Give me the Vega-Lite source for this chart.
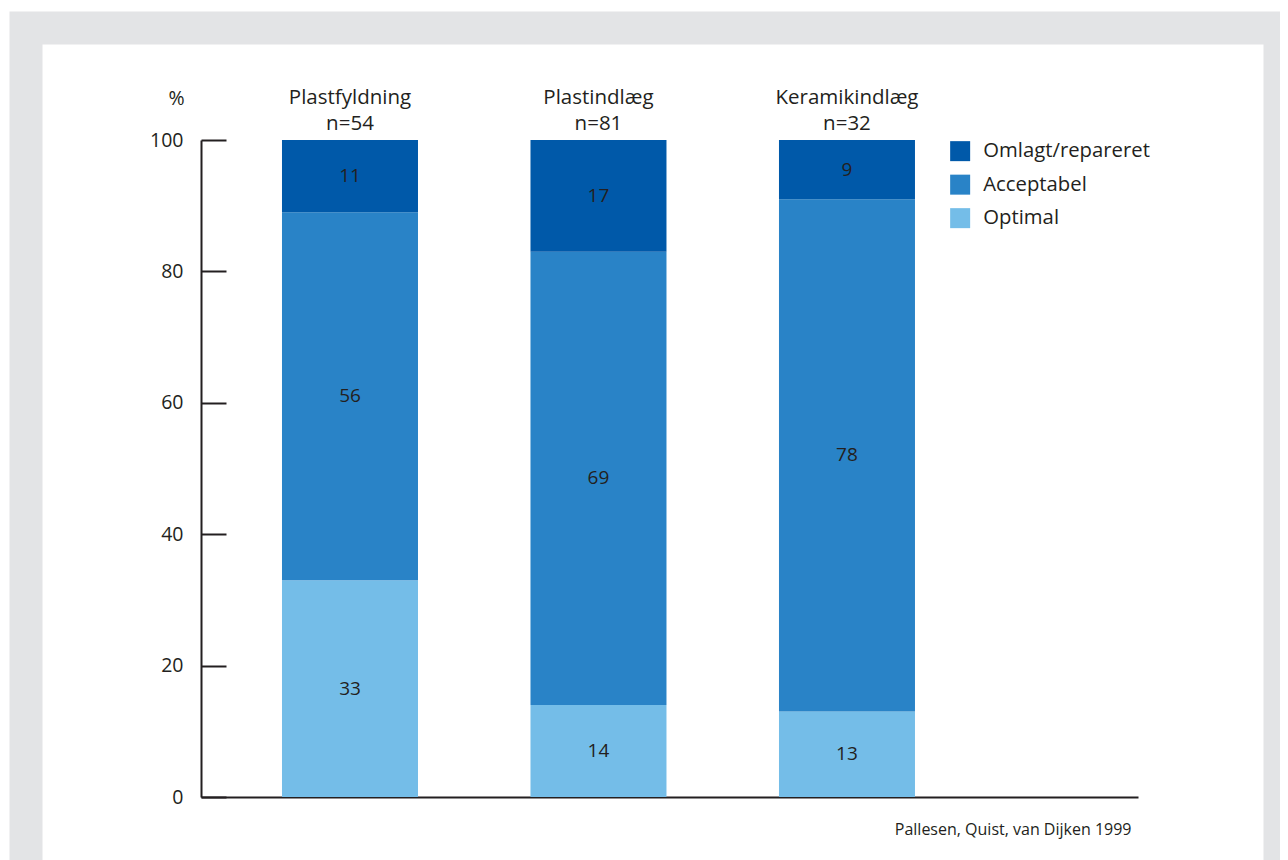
{
  "$schema": "https://vega.github.io/schema/vega-lite/v6.json",
  "width": 1254,
  "height": 900,
  "autosize": {"type": "none"},
  "padding": {"left": 26, "top": 28, "right": 0, "bottom": 0},
  "background": "#ffffff",
  "config": {
    "view": {"fill": "#ffffff", "stroke": "#e3e4e6", "strokeWidth": 33},
    "font": "Open Sans"
  },
  "data": {
    "values": [
      {"cat": "Plastfyldning", "header": "Plastfyldning\nn=54", "status": "Optimal", "order": 1, "value": 33},
      {"cat": "Plastfyldning", "header": "Plastfyldning\nn=54", "status": "Acceptabel", "order": 2, "value": 56},
      {"cat": "Plastfyldning", "header": "Plastfyldning\nn=54", "status": "Omlagt/repareret", "order": 3, "value": 11},
      {"cat": "Plastindlæg", "header": "Plastindlæg\nn=81", "status": "Optimal", "order": 1, "value": 14},
      {"cat": "Plastindlæg", "header": "Plastindlæg\nn=81", "status": "Acceptabel", "order": 2, "value": 69},
      {"cat": "Plastindlæg", "header": "Plastindlæg\nn=81", "status": "Omlagt/repareret", "order": 3, "value": 17},
      {"cat": "Keramikindlæg", "header": "Keramikindlæg\nn=32", "status": "Optimal", "order": 1, "value": 13},
      {"cat": "Keramikindlæg", "header": "Keramikindlæg\nn=32", "status": "Acceptabel", "order": 2, "value": 78},
      {"cat": "Keramikindlæg", "header": "Keramikindlæg\nn=32", "status": "Omlagt/repareret", "order": 3, "value": 9}
    ]
  },
  "transform": [
    {"stack": "value", "groupby": ["cat"], "sort": [{"field": "order", "order": "ascending"}], "as": ["y0", "y1"]},
    {"calculate": "(datum.y0 + datum.y1) / 2", "as": "ymid"}
  ],
  "encoding": {
    "x": {
      "field": "cat",
      "type": "nominal",
      "sort": ["Plastfyldning", "Plastindlæg", "Keramikindlæg"],
      "scale": {"range": [175, 1112], "paddingInner": 0.4527, "paddingOuter": 0.6117, "align": 0.2664, "round": false},
      "axis": {
        "orient": "bottom",
        "offset": -131,
        "labels": false,
        "ticks": false,
        "domainColor": "#231f20",
        "domainWidth": 2,
        "title": "Pallesen, Quist, van Dijken 1999",
        "titleX": 1105,
        "titleY": 37,
        "titleAlign": "right",
        "titleBaseline": "alphabetic",
        "titleFontSize": 16,
        "titleFontWeight": "normal",
        "titleColor": "#231f20"
      }
    }
  },
  "layer": [
    {
      "mark": {"type": "bar"},
      "encoding": {
        "y": {
          "field": "y0",
          "type": "quantitative",
          "scale": {"domain": [0, 100], "range": [769, 112], "nice": false},
          "axis": {
            "orient": "left",
            "offset": -175,
            "values": [0, 20, 40, 60, 80, 100],
            "grid": false,
            "tickSize": -25,
            "tickWidth": 2,
            "tickColor": "#231f20",
            "domainColor": "#231f20",
            "domainWidth": 2,
            "labelPadding": 43,
            "labelFontSize": 19.5,
            "labelColor": "#231f20",
            "title": "%",
            "titleAngle": 0,
            "titleX": -25,
            "titleY": 70,
            "titleAlign": "center",
            "titleBaseline": "middle",
            "titleFontSize": 19.5,
            "titleFontWeight": "normal",
            "titleColor": "#231f20"
          }
        },
        "y2": {"field": "y1"},
        "color": {
          "field": "status",
          "type": "nominal",
          "scale": {
            "domain": ["Omlagt/repareret", "Acceptabel", "Optimal"],
            "range": ["#0059a9", "#2983c7", "#74bde8"]
          },
          "legend": {
            "orient": "none",
            "legendX": 924,
            "legendY": 113,
            "title": null,
            "padding": 0,
            "symbolType": "square",
            "symbolSize": 400,
            "symbolStrokeWidth": 0,
            "symbolOpacity": 1,
            "labelFontSize": 20.3,
            "labelLimit": 400,
            "labelColor": "#231f20",
            "labelOffset": 13,
            "rowPadding": 12.5
          }
        }
      }
    },
    {
      "mark": {"type": "text", "fontSize": 19, "color": "#231f20", "baseline": "middle", "align": "center"},
      "encoding": {
        "y": {"field": "ymid", "type": "quantitative"},
        "text": {"field": "value", "type": "quantitative"}
      }
    },
    {
      "transform": [{"filter": "datum.order == 1"}],
      "mark": {"type": "text", "fontSize": 20.5, "color": "#231f20", "baseline": "bottom", "align": "center", "lineBreak": "\n", "lineHeight": 26, "dy": -32},
      "encoding": {
        "y": {"datum": 100, "type": "quantitative"},
        "text": {"field": "header", "type": "nominal"}
      }
    }
  ]
}
